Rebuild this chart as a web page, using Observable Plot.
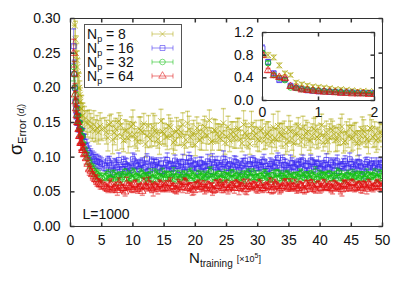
<!DOCTYPE html>
<html><head><meta charset="utf-8">
<script src="https://cdn.jsdelivr.net/npm/d3@7"></script>
<script src="https://cdn.jsdelivr.net/npm/@observablehq/plot@0.6"></script>
<style>
html,body{margin:0;padding:0;background:#fff;}
#wrap{position:relative;width:407px;height:285px;font-family:"Liberation Sans",Arial,sans-serif;}
#wrap svg{position:absolute;}
</style></head><body><div id="wrap"></div>
<script>
// ---- sampling grids (x in units of 1e5 training samples)
const xEarly = [0,0.1,0.2,0.3,0.4,0.5,0.6,0.7,0.8,0.9,1.0,1.1,1.2,1.3,1.4,1.5,1.6,1.7,1.8,1.9,2.0];
const xMid = [2.25,2.5,2.75,3,3.25,3.5,3.75,4,4.25,4.5,4.75,5];
const xLate = d3.range(11, 101).map(i => i / 2);        // 5.5, 6.0 ... 50
const xLateB = d3.range(11, 100).map(i => i / 2 + 0.25); // 5.75, 6.25 ... 49.75
const xs = [...xEarly, ...xMid, ...xLate];

// ---- series labels
const npLabels = ["8", "16", "32", "64"];

// ---- values (sigma of error), grid xs
const yN8 = [
.82,.80,.76,.62,.48,.45,.32,.29,.27,.25,.24,.23,.22,.20,.20,.19,.18,.17,.17,.16,.16,
.155,.150,.148,.152,.145,.140,.147,.138,.142,.136,.145,.140,
.142,.128,.150,.135,.131,.146,.124,.139,.133,.148,
.127,.141,.136,.119,.145,.132,.138,.126,.152,.134,
.129,.143,.121,.137,.131,.147,.125,.140,.133,.118,
.136,.128,.144,.131,.122,.139,.134,.127,.149,.130,
.124,.137,.132,.141,.120,.135,.128,.146,.131,.126,
.138,.123,.134,.129,.143,.125,.136,.131,.119,.140,
.127,.133,.145,.122,.130,.137,.124,.141,.129,.134,
.121,.136,.128,.139,.125,.132,.144,.123,.130,.127,
.135,.120,.131,.138,.126,.142,.129,.124,.136,.131];
const yN16 = [
.92,.68,.48,.36,.37,.26,.22,.20,.18,.17,.16,.16,.15,.15,.14,.14,.14,.13,.13,.13,.13,
.122,.116,.110,.106,.102,.100,.097,.095,.094,.093,.092,.090,
.088,.095,.082,.091,.086,.079,.093,.087,.084,.097,
.089,.083,.092,.086,.080,.094,.088,.085,.091,.082,
.096,.087,.084,.090,.081,.093,.088,.099,.085,.090,
.083,.091,.087,.094,.080,.089,.092,.086,.098,.084,
.090,.085,.093,.081,.088,.095,.087,.083,.091,.089,
.086,.094,.080,.090,.087,.092,.084,.096,.088,.082,
.091,.085,.089,.093,.081,.087,.095,.086,.090,.084,
.088,.096,.083,.089,.092,.080,.087,.094,.085,.090,
.083,.091,.087,.079,.093,.088,.085,.092,.086,.089];
const yN32 = [
.84,.66,.45,.40,.36,.23,.22,.20,.19,.18,.17,.16,.16,.15,.15,.14,.14,.13,.13,.13,.12,
.112,.105,.098,.092,.088,.083,.080,.077,.075,.073,.071,.070,
.071,.076,.069,.074,.072,.067,.075,.070,.073,.078,
.072,.068,.076,.071,.074,.069,.077,.073,.070,.075,
.074,.070,.078,.072,.068,.075,.071,.076,.073,.069,
.076,.072,.070,.074,.079,.071,.073,.068,.075,.072,
.070,.077,.073,.069,.075,.072,.078,.071,.074,.070,
.073,.076,.071,.068,.074,.077,.070,.073,.075,.072,
.069,.074,.072,.077,.070,.073,.076,.071,.068,.075,
.074,.071,.076,.072,.069,.078,.073,.070,.075,.072,
.071,.075,.073,.069,.076,.072,.074,.070,.077,.073];
const yN64 = [
.80,.53,.44,.41,.39,.25,.22,.19,.18,.17,.16,.15,.15,.14,.13,.13,.12,.12,.12,.11,.11,
.105,.098,.090,.082,.080,.075,.072,.068,.066,.063,.061,.060,
.058,.054,.061,.056,.052,.059,.055,.062,.057,.053,
.060,.056,.051,.058,.063,.055,.059,.054,.061,.057,
.055,.062,.058,.053,.060,.056,.064,.057,.054,.059,
.061,.057,.054,.060,.056,.052,.058,.063,.055,.060,
.056,.059,.062,.055,.058,.053,.061,.057,.060,.054,
.059,.055,.058,.064,.056,.060,.053,.058,.062,.056,
.057,.061,.055,.059,.052,.058,.063,.056,.060,.055,
.062,.056,.060,.054,.059,.057,.053,.061,.058,.063,
.055,.059,.057,.061,.054,.060,.056,.062,.058,.057];

// ---- values on grid xLateB
const yN8b = [
.136,.147,.125,.141,.152,.130,.138,.127,.144,.133,
.122,.139,.148,.131,.126,.143,.135,.120,.137,.129,
.145,.132,.124,.140,.136,.118,.149,.128,.134,.142,
.125,.137,.131,.153,.123,.138,.129,.135,.121,.144,
.133,.127,.140,.126,.147,.131,.119,.138,.134,.124,
.141,.130,.136,.122,.128,.145,.132,.139,.126,.137,
.120,.134,.129,.143,.135,.124,.131,.138,.127,.146,
.130,.123,.141,.133,.126,.137,.121,.135,.142,.128,
.134,.125,.139,.130,.122,.140,.133,.127,.136];
const yN16b = [
.084,.092,.078,.089,.096,.083,.090,.086,.081,.094,
.087,.091,.084,.098,.082,.089,.093,.085,.080,.092,
.088,.083,.095,.087,.091,.079,.086,.094,.089,.084,
.092,.086,.081,.090,.097,.085,.088,.083,.093,.087,
.082,.094,.089,.085,.091,.078,.090,.096,.084,.088,
.093,.087,.083,.091,.086,.099,.082,.089,.085,.092,
.086,.090,.084,.095,.088,.081,.093,.087,.091,.083,
.089,.085,.092,.080,.094,.087,.090,.084,.097,.086,
.088,.093,.082,.090,.085,.091,.087,.083,.092];
const yN32b = [
.073,.070,.076,.068,.074,.071,.079,.072,.069,.075,
.071,.077,.073,.070,.076,.068,.074,.072,.078,.070,
.075,.072,.069,.076,.071,.074,.070,.077,.073,.068,
.072,.075,.071,.078,.069,.073,.076,.070,.074,.072,
.077,.070,.074,.071,.069,.075,.072,.078,.071,.073,
.070,.076,.072,.074,.068,.077,.073,.070,.075,.071,
.074,.069,.076,.072,.075,.070,.073,.079,.071,.074,
.072,.075,.070,.073,.077,.071,.069,.074,.072,.076,
.073,.070,.075,.071,.074,.072,.077,.070,.073];
const yN64b = [
.056,.060,.053,.058,.062,.055,.050,.059,.057,.061,
.054,.058,.063,.056,.060,.053,.057,.061,.055,.059,
.062,.056,.053,.060,.057,.064,.055,.058,.052,.060,
.057,.061,.055,.059,.054,.062,.058,.056,.060,.053,
.059,.055,.061,.057,.063,.054,.058,.060,.056,.062,
.055,.059,.057,.052,.061,.058,.055,.063,.057,.060,
.058,.054,.060,.056,.062,.057,.059,.053,.061,.056,
.060,.057,.055,.062,.058,.054,.061,.059,.056,.063,
.057,.060,.055,.059,.062,.056,.058,.061,.057];

// ---- error bar half-lengths, grid xs
const eN8 = [
.05,.045,.04,.04,.035,.03,.03,.028,.026,.025,.024,.023,.022,.022,.021,.020,.020,.019,.019,.018,.018,
.018,.017,.019,.016,.018,.017,.020,.016,.018,.017,.019,.016,
.015,.019,.012,.017,.021,.014,.016,.013,.018,.020,
.014,.017,.012,.019,.015,.016,.022,.013,.017,.015,
.018,.013,.016,.020,.014,.017,.012,.019,.015,.016,
.013,.018,.015,.012,.020,.016,.014,.017,.021,.013,
.016,.014,.019,.015,.012,.018,.016,.020,.013,.017,
.015,.012,.017,.014,.019,.016,.013,.018,.015,.020,
.017,.014,.012,.018,.016,.013,.019,.015,.017,.014,
.012,.016,.020,.013,.017,.015,.018,.014,.016,.019,
.014,.018,.013,.016,.012,.019,.015,.017,.014,.016];
const eN16 = [
.06,.04,.035,.03,.03,.025,.02,.018,.016,.015,.014,.014,.013,.013,.012,.012,.012,.011,.011,.011,.011,
.011,.010,.011,.010,.010,.009,.010,.009,.010,.009,.009,.009,
.008,.006,.010,.007,.009,.006,.008,.011,.007,.009,
.006,.009,.007,.008,.010,.006,.009,.007,.008,.006,
.010,.007,.008,.006,.009,.011,.007,.008,.006,.009,
.007,.009,.006,.010,.008,.007,.009,.006,.011,.008,
.009,.006,.008,.007,.010,.008,.006,.009,.007,.008,
.006,.010,.007,.009,.006,.008,.011,.007,.009,.006,
.008,.007,.009,.006,.010,.007,.008,.009,.006,.010,
.007,.009,.006,.008,.007,.010,.006,.008,.009,.007,
.009,.006,.008,.010,.007,.006,.009,.007,.008,.006];
const eN32 = [
.04,.035,.03,.025,.025,.02,.018,.016,.015,.014,.013,.012,.012,.011,.011,.010,.010,.010,.009,.009,.009,
.009,.008,.009,.008,.008,.007,.008,.007,.007,.007,.006,.007,
.005,.006,.004,.007,.005,.006,.004,.005,.007,.006,
.004,.006,.005,.007,.004,.005,.006,.008,.005,.004,
.006,.005,.007,.004,.006,.005,.004,.006,.007,.005,
.005,.004,.006,.005,.007,.004,.006,.005,.004,.006,
.007,.005,.004,.006,.005,.008,.005,.004,.006,.005,
.004,.006,.005,.004,.007,.005,.006,.004,.005,.007,
.006,.004,.007,.005,.004,.006,.005,.007,.004,.006,
.005,.007,.004,.006,.005,.004,.007,.005,.006,.004,
.006,.005,.006,.004,.007,.005,.004,.006,.005,.007];
const eN64 = [
.04,.035,.03,.025,.025,.02,.018,.016,.015,.014,.013,.012,.012,.011,.011,.010,.010,.010,.009,.009,.009,
.009,.008,.009,.008,.007,.008,.007,.007,.008,.006,.007,.006,
.006,.005,.008,.004,.007,.005,.006,.009,.005,.004,
.007,.005,.006,.004,.008,.006,.005,.007,.004,.006,
.005,.008,.004,.006,.005,.007,.004,.006,.009,.005,
.006,.004,.007,.005,.006,.004,.008,.005,.006,.007,
.004,.006,.005,.009,.004,.006,.007,.005,.004,.006,
.007,.005,.004,.006,.008,.005,.006,.004,.007,.005,
.005,.007,.006,.004,.005,.008,.004,.006,.005,.007,
.006,.004,.005,.007,.006,.004,.009,.005,.006,.004,
.005,.006,.008,.004,.007,.005,.006,.004,.007,.005];

// ---- error bar half-lengths, grid xLateB
const eN8b = [
.017,.013,.020,.015,.012,.018,.016,.021,.014,.017,
.013,.019,.015,.017,.012,.020,.014,.016,.018,.013,
.016,.020,.014,.012,.018,.015,.017,.013,.019,.016,
.014,.017,.021,.015,.013,.016,.019,.012,.017,.015,
.018,.014,.016,.013,.020,.017,.015,.012,.019,.016,
.013,.018,.015,.017,.014,.021,.016,.013,.018,.015,
.019,.015,.013,.016,.018,.014,.017,.020,.013,.016,
.015,.018,.014,.012,.017,.019,.015,.016,.013,.018,
.016,.013,.019,.015,.017,.014,.018,.016,.012];
const eN16b = [
.007,.009,.006,.008,.010,.007,.009,.006,.008,.010,
.009,.006,.008,.007,.011,.008,.006,.009,.007,.008,
.006,.010,.008,.009,.006,.007,.010,.008,.006,.009,
.008,.007,.009,.006,.008,.011,.007,.009,.008,.006,
.010,.008,.006,.009,.007,.008,.010,.006,.009,.007,
.007,.009,.008,.006,.010,.007,.009,.008,.006,.011,
.009,.006,.010,.008,.007,.009,.006,.008,.010,.007,
.006,.008,.007,.010,.009,.006,.008,.007,.009,.008,
.008,.010,.006,.009,.007,.008,.006,.010,.007];
const eN32b = [
.006,.004,.005,.007,.005,.006,.004,.006,.005,.007,
.005,.006,.004,.005,.007,.006,.005,.004,.006,.005,
.004,.007,.006,.005,.004,.006,.005,.007,.005,.006,
.006,.005,.004,.007,.006,.005,.004,.006,.008,.005,
.005,.004,.006,.005,.007,.004,.006,.005,.004,.007,
.007,.006,.005,.004,.006,.005,.007,.004,.006,.005,
.004,.006,.007,.005,.004,.006,.005,.007,.005,.004,
.006,.005,.004,.006,.007,.005,.006,.004,.005,.006,
.005,.007,.004,.006,.005,.004,.006,.005,.007];
const eN64b = [
.005,.007,.004,.006,.008,.005,.006,.004,.007,.005,
.006,.004,.007,.005,.006,.009,.004,.006,.005,.007,
.004,.006,.005,.008,.004,.006,.007,.005,.006,.004,
.007,.005,.006,.004,.009,.005,.006,.007,.004,.006,
.005,.007,.004,.006,.005,.008,.004,.005,.007,.006,
.006,.004,.008,.005,.007,.004,.006,.005,.006,.009,
.004,.006,.005,.007,.004,.006,.008,.005,.004,.006,
.007,.005,.006,.004,.005,.007,.006,.008,.005,.004,
.006,.004,.007,.005,.006,.004,.005,.007,.006];

// ---- ticks
const xTicks = [0,5,10,15,20,25,30,35,40,45,50];
const yTicks = [0,0.05,0.10,0.15,0.20,0.25,0.30];
const xTicksInset = [0,1,2];
const yTicksInset = [0,0.4,0.8,1.2];

// ---- styles
const colors = ["#b0aa10", "#3a28f0", "#10c010", "#e01010"];
const symbolNames = ["times", "square", "circle", "triangle"];
const axisColor = "#333";
const FONT = '"Liberation Sans", Arial, sans-serif';

const ys = [yN8, yN16, yN32, yN64], es = [eN8, eN16, eN32, eN64];
const ysB = [yN8b, yN16b, yN32b, yN64b], esB = [eN8b, eN16b, eN32b, eN64b];
const rows = ys.map((arr, k) => [
  ...xs.map((x, i) => ({x, y: arr[i], e: es[k][i]})),
  ...xLateB.map((x, i) => ({x, y: ysB[k][i], e: esB[k][i]}))
].sort((a, b) => a.x - b.x));
const insetRows = rows.map(r => r.filter(d => d.x <= 2.0001));

const capSym = {draw(c){ c.moveTo(-2.5, 0); c.lineTo(2.5, 0); }};
const tickUp = {draw(c){ c.moveTo(0, 0); c.lineTo(0, -4); }};
const tickDown = {draw(c){ c.moveTo(0, 0); c.lineTo(0, 4); }};
const tickRight = {draw(c){ c.moveTo(0, 0); c.lineTo(4, 0); }};
const tickLeft = {draw(c){ c.moveTo(0, 0); c.lineTo(-4, 0); }};

function seriesMarks(data, k) {
  const c = colors[k];
  return [
    Plot.ruleX(data, {x: "x", y1: d => d.y - d.e, y2: d => d.y + d.e, stroke: c, strokeOpacity: 0.5, clip: true}),
    Plot.dot(data, {x: "x", y: d => d.y + d.e, symbol: capSym, stroke: c, strokeOpacity: 0.5, clip: true}),
    Plot.dot(data, {x: "x", y: d => d.y - d.e, symbol: capSym, stroke: c, strokeOpacity: 0.5, clip: true}),
    Plot.dot(data, {x: "x", y: "y", symbol: symbolNames[k], r: 2.8, stroke: c, strokeOpacity: 0.75, fill: "none", strokeWidth: 1, clip: true})
  ];
}
function tickMarks(xt, yt, x0, x1, y0, y1) {
  return [
    Plot.dot(xt, {x: d => d, y: y0, symbol: tickUp, stroke: axisColor}),
    Plot.dot(xt, {x: d => d, y: y1, symbol: tickDown, stroke: axisColor}),
    Plot.dot(yt, {x: x0, y: d => d, symbol: tickRight, stroke: axisColor}),
    Plot.dot(yt, {x: x1, y: d => d, symbol: tickLeft, stroke: axisColor})
  ];
}

const main = Plot.plot({
  width: 407, height: 285,
  marginLeft: 70, marginRight: 25, marginTop: 18, marginBottom: 59,
  style: {fontFamily: FONT, background: "transparent", overflow: "visible"},
  x: {domain: [0, 50]},
  y: {domain: [0, 0.3]},
  marks: [
    ...[0,1,2,3].flatMap(k => seriesMarks(rows[k], k)),
    Plot.frame({stroke: axisColor}),
    ...tickMarks(xTicks, yTicks, 0, 50, 0, 0.3),
    Plot.axisX({ticks: xTicks, tickSize: 0, tickPadding: 9, fontSize: 14, label: null, fill: "#111"}),
    Plot.axisY({ticks: yTicks, tickSize: 0, tickPadding: 10, fontSize: 14, label: null, tickFormat: d3.format(".2f"), fill: "#111"}),
    Plot.text(["L=1000"], {frameAnchor: "bottom-left", dx: 12, dy: -8, lineAnchor: "bottom", textAnchor: "start", fontSize: 14, fill: "#111"})
  ]
});
main.style.left = "0px"; main.style.top = "0px";

const inset = Plot.plot({
  width: 147, height: 92,
  marginLeft: 30, marginRight: 5, marginTop: 4, marginBottom: 20,
  style: {fontFamily: FONT, background: "transparent", overflow: "visible"},
  x: {domain: [0, 2]},
  y: {domain: [0, 1.2]},
  marks: [
    ...[0,1,2,3].flatMap(k => seriesMarks(insetRows[k], k)),
    Plot.frame({stroke: axisColor}),
    ...tickMarks(xTicksInset, yTicksInset, 0, 2, 0, 1.2),
    Plot.axisX({ticks: xTicksInset, tickSize: 0, tickPadding: 7, fontSize: 14, label: null, fill: "#111", tickFormat: d => String(d)}),
    Plot.axisY({ticks: yTicksInset, tickSize: 0, tickPadding: 9, fontSize: 14, label: null, tickFormat: d3.format(".1f"), fill: "#111"})
  ]
});
inset.style.left = "232px"; inset.style.top = "28px";

const wrap = document.getElementById("wrap");
wrap.appendChild(main);
wrap.appendChild(inset);

// ---- titles and legend
const svg = d3.select(main);
const xt = svg.append("text").attr("x", 225).attr("y", 263).attr("text-anchor", "middle")
  .attr("font-family", FONT).attr("fill", "#111").attr("font-size", 15);
xt.append("tspan").text("N");
xt.append("tspan").attr("font-size", 10).attr("dy", 4).text("training");
xt.append("tspan").attr("font-size", 9).attr("dy", -5).attr("dx", 4).text("[×10");
xt.append("tspan").attr("font-size", 7).attr("dy", -4).text("5");
xt.append("tspan").attr("font-size", 9).attr("dy", 4).text("]");

const yt = svg.append("text").attr("transform", "translate(22,155) rotate(-90)").attr("text-anchor", "start")
  .attr("font-family", FONT).attr("fill", "#111").attr("font-size", 18);
yt.append("tspan").text("σ");
yt.append("tspan").attr("font-size", 11).attr("dy", 4).text("Error");
yt.append("tspan").attr("font-size", 9).attr("dy", -2).attr("dx", 3).text("(");
yt.append("tspan").attr("font-size", 9).attr("font-style", "italic").text("d");
yt.append("tspan").attr("font-size", 6).attr("font-style", "italic").attr("dy", 2).text("i");
yt.append("tspan").attr("font-size", 9).attr("dy", -2).text(")");

const lg = svg.append("g");
lg.append("rect").attr("x", 84.5).attr("y", 24.5).attr("width", 97).attr("height", 63)
  .attr("fill", "white").attr("stroke", "#555");
const d3syms = [d3.symbolTimes, d3.symbolSquare, d3.symbolCircle, d3.symbolTriangle];
npLabels.forEach((lab, k) => {
  const cy = 34 + k * 14;
  const t = lg.append("text").attr("x", 87).attr("y", cy + 5).attr("font-family", FONT)
    .attr("text-anchor", "start").attr("font-size", 14).attr("fill", "#111");
  t.append("tspan").text("N");
  t.append("tspan").attr("font-size", 9).attr("dy", 3).text("p");
  t.append("tspan").attr("dy", -3).text(" = " + lab);
  const g = lg.append("g").attr("stroke", colors[k]).attr("stroke-opacity", 0.55).attr("fill", "none");
  g.append("line").attr("x1", 152).attr("x2", 173).attr("y1", cy).attr("y2", cy);
  g.append("line").attr("x1", 152).attr("x2", 152).attr("y1", cy - 2.5).attr("y2", cy + 2.5);
  g.append("line").attr("x1", 173).attr("x2", 173).attr("y1", cy - 2.5).attr("y2", cy + 2.5);
  g.append("path").attr("transform", `translate(162.5,${cy})`).attr("d", d3.symbol(d3syms[k], Math.PI * 2.8 * 2.8)());
});
</script></body></html>
